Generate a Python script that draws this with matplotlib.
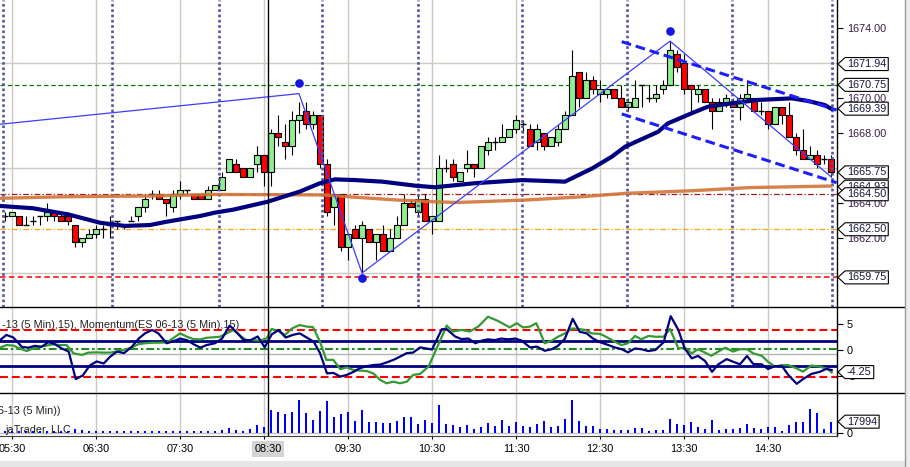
import numpy as np
import matplotlib.pyplot as plt
from matplotlib.patches import Polygon, Rectangle
from matplotlib.lines import Line2D
from matplotlib.transforms import IdentityTransform

plt.rcParams['font.family'] = ['Liberation Sans', 'DejaVu Sans']

# ---- values (ES 06-13, 5 min bars, bar 0 = 05:30) ----
first_bar = -1
opens = [1663.25, 1663.25, 1663.25, 1662.75, 1663.0, 1663.25, 1663.25, 1663.5, 1663.25, 1663.25,
         1662.75, 1661.75, 1662.0, 1662.25, 1662.5, 1662.75, 1663.0, 1662.75, 1663.0, 1663.25,
         1663.75, 1664.5, 1664.5, 1664.25, 1663.75, 1664.5, 1664.75, 1664.5, 1664.5, 1664.25,
         1664.75, 1664.75, 1665.75, 1666.25, 1666.0, 1665.5, 1666.25, 1666.75, 1665.75, 1668.0,
         1667.5, 1667.25, 1668.75, 1669.25, 1668.5, 1669.0, 1666.25, 1663.75, 1664.5, 1661.5,
         1662.5, 1662.0, 1662.5, 1661.75, 1662.25, 1661.25, 1662.0, 1662.75, 1664.0, 1663.5,
         1664.25, 1663.0, 1663.0, 1666.0, 1666.25, 1665.25, 1666.0, 1666.25, 1666.0, 1667.0,
         1667.5, 1667.5, 1667.75, 1668.25, 1668.5, 1668.25, 1667.5, 1668.0, 1667.25, 1667.5,
         1668.25, 1669.0, 1671.5, 1670.0, 1671.0, 1670.25, 1670.25, 1670.5, 1670.0, 1669.5,
         1669.5, 1670.75, 1670.0, 1670.0, 1670.5, 1670.75, 1672.5, 1672.0, 1670.75, 1670.25,
         1670.5, 1669.75, 1669.25, 1669.75, 1669.75, 1669.5, 1670.0, 1670.0, 1669.25, 1669.25,
         1668.5, 1669.5, 1669.0, 1667.75, 1667.0, 1666.5, 1666.75, 1666.5, 1666.5]
highs = [1663.5, 1663.5, 1663.25, 1663.25, 1663.25, 1663.25, 1664.0, 1663.5, 1663.5, 1663.5,
         1662.75, 1662.0, 1662.5, 1662.75, 1662.75, 1663.25, 1663.0, 1662.75, 1663.25, 1663.75,
         1664.5, 1664.75, 1664.75, 1664.25, 1664.75, 1665.25, 1664.75, 1664.5, 1664.5, 1665.0,
         1665.0, 1665.75, 1666.5, 1666.5, 1666.0, 1666.0, 1667.25, 1666.75, 1668.25, 1669.0,
         1668.5, 1669.25, 1669.75, 1669.75, 1669.25, 1669.0, 1666.5, 1664.5, 1664.5, 1662.25,
         1662.75, 1663.0, 1662.5, 1662.25, 1662.75, 1662.5, 1663.25, 1664.5, 1664.25, 1664.5,
         1664.5, 1663.25, 1666.75, 1666.5, 1666.5, 1665.75, 1667.0, 1666.25, 1667.25, 1667.75,
         1667.75, 1668.5, 1668.25, 1669.0, 1668.75, 1668.5, 1668.5, 1668.0, 1667.75, 1668.5,
         1669.25, 1672.75, 1671.5, 1671.5, 1671.25, 1671.0, 1670.5, 1670.5, 1670.75, 1670.0,
         1671.0, 1670.75, 1670.75, 1670.75, 1671.0, 1673.25, 1672.75, 1672.5, 1670.75, 1670.75,
         1670.5, 1670.0, 1670.0, 1670.25, 1670.0, 1670.25, 1671.0, 1670.0, 1669.75, 1669.25,
         1669.5, 1669.5, 1669.75, 1668.0, 1668.25, 1667.25, 1667.0, 1666.75, 1666.75]
lows = [1663.0, 1663.25, 1662.75, 1662.75, 1662.75, 1662.75, 1663.0, 1663.0, 1663.0, 1662.75,
        1661.5, 1661.5, 1662.0, 1662.0, 1662.0, 1662.0, 1662.5, 1662.5, 1663.0, 1663.0,
        1663.5, 1664.25, 1664.25, 1663.25, 1663.5, 1664.25, 1664.5, 1664.25, 1664.25, 1664.25,
        1664.75, 1664.75, 1665.75, 1665.75, 1665.5, 1665.5, 1665.75, 1665.0, 1665.0, 1667.25,
        1666.5, 1666.75, 1668.0, 1668.25, 1668.25, 1666.0, 1663.25, 1662.75, 1661.25, 1660.75,
        1662.0, 1660.0, 1661.75, 1660.75, 1661.25, 1661.25, 1662.0, 1662.75, 1663.75, 1663.25,
        1663.0, 1662.25, 1663.0, 1665.75, 1665.25, 1665.25, 1665.75, 1665.5, 1666.0, 1666.75,
        1667.0, 1667.5, 1667.75, 1668.0, 1668.0, 1667.25, 1667.0, 1667.0, 1667.25, 1667.25,
        1668.25, 1669.0, 1669.5, 1670.0, 1670.25, 1669.75, 1670.0, 1670.0, 1669.5, 1669.25,
        1669.5, 1669.5, 1669.75, 1669.75, 1670.25, 1670.75, 1671.5, 1670.25, 1669.25, 1669.75,
        1669.75, 1668.25, 1669.25, 1669.5, 1669.5, 1668.75, 1669.75, 1669.25, 1669.0, 1668.25,
        1668.5, 1668.5, 1667.75, 1666.75, 1666.5, 1666.5, 1666.0, 1666.25, 1665.5]
closes = [1663.25, 1663.5, 1662.75, 1662.75, 1663.0, 1663.25, 1663.5, 1663.25, 1663.0, 1663.0,
          1661.75, 1662.0, 1662.25, 1662.5, 1662.5, 1662.75, 1663.0, 1662.75, 1663.0, 1663.75,
          1664.25, 1664.5, 1664.25, 1664.0, 1664.5, 1664.75, 1664.75, 1664.25, 1664.25, 1664.75,
          1665.0, 1665.5, 1666.5, 1665.75, 1665.5, 1666.0, 1666.75, 1665.75, 1668.0, 1667.75,
          1667.25, 1668.75, 1669.0, 1668.5, 1669.0, 1666.25, 1663.5, 1664.5, 1661.5, 1662.25,
          1662.0, 1662.75, 1661.75, 1662.25, 1661.25, 1662.0, 1662.75, 1664.0, 1663.75, 1664.25,
          1663.0, 1663.25, 1666.0, 1666.0, 1665.5, 1665.75, 1666.25, 1666.0, 1667.25, 1667.5,
          1667.5, 1667.75, 1668.25, 1668.75, 1668.5, 1667.25, 1668.25, 1667.25, 1667.75, 1668.25,
          1669.0, 1671.25, 1670.0, 1671.0, 1670.5, 1670.5, 1670.5, 1670.0, 1669.5, 1669.75,
          1670.0, 1670.75, 1670.0, 1670.25, 1670.75, 1672.75, 1671.75, 1670.5, 1670.5, 1670.5,
          1669.75, 1669.25, 1669.75, 1670.0, 1669.5, 1670.0, 1670.25, 1669.25, 1669.25, 1668.5,
          1669.5, 1669.0, 1667.75, 1667.0, 1666.5, 1666.75, 1666.25, 1666.5, 1665.75]
volumes = [2650, 2650, 2650, 2650, 2650, 2650, 2650, 2650, 2650, 2650,
           6360, 4240, 2650, 2650, 2650, 3710, 2650, 2650, 2650, 2650,
           2650, 2650, 2650, 3710, 2650, 3710, 2650, 2650, 2650, 2650,
           2650, 5300, 7950, 5300, 2650, 6360, 12190, 9540, 37100, 32860,
           30210, 33390, 53000, 31800, 21200, 35500, 51400, 25440, 30210, 32860,
           18550, 36570, 17490, 17490, 15900, 15900, 18550, 25440, 24910, 14310,
           21150, 15900, 44520, 14310, 12720, 10020, 12720, 6360, 10020, 15900,
           11610, 21150, 11610, 17490, 11610, 10020, 14310, 19080, 10020, 11610,
           22260, 52950, 19560, 11610, 11610, 6840, 6840, 5250, 5250, 5250,
           8430, 8430, 3660, 5250, 5250, 22260, 14310, 12720, 17490, 10020,
           6360, 20670, 5250, 6360, 6360, 8430, 14310, 8430, 6360, 10020,
           10020, 3180, 12720, 17490, 17490, 38640, 31800, 6360, 17994]

hour_labels = ['05:30', '06:30', '07:30', '08:30', '09:30', '10:30',
               '11:30', '12:30', '13:30', '14:30']
bars_per_hour = 12

# moving averages (bar position, price)
sma_fast_x = [-1.7, 3, 8, 12.6, 16.1, 19.7, 22.1, 26.9, 29, 31.6, 36.4, 41.1, 44, 46.1, 49,
              52.9, 57.6, 60.4, 66.1, 72.9, 79, 82.9, 85.7, 87.6, 92.3, 93.7, 97.1, 99.4,
              102.9, 106.6, 111.4, 113.7, 116.1, 117]
sma_fast_y = [1663.83, 1663.70, 1663.35, 1662.87, 1662.69, 1662.74, 1662.93, 1663.26, 1663.45,
              1663.62, 1664.06, 1664.65, 1665.13, 1665.35, 1665.31, 1665.22, 1664.99, 1664.90,
              1665.13, 1665.31, 1665.22, 1665.98, 1666.65, 1667.22, 1668.07, 1668.55, 1669.13,
              1669.50, 1669.70, 1669.89, 1669.98, 1669.83, 1669.60, 1669.39]
sma_slow_x = [-1.7, 7.9, 19.7, 29, 44.7, 49, 55.1, 60.4, 63.7, 73.3, 80.4, 87.6, 97.1, 105.4, 117]
sma_slow_y = [1664.27, 1664.36, 1664.40, 1664.49, 1664.46, 1664.33, 1664.17, 1664.07, 1664.03,
              1664.17, 1664.33, 1664.55, 1664.70, 1664.88, 1664.97]

zigzag_x = [-1.7, 41, 50, 94, 117]
zigzag_y = [1668.5, 1670.25, 1660.0, 1673.25, 1665.5]
swing_dot_x = [41, 50, 94]
swing_dot_y = [1670.85, 1659.7, 1673.8]

channel_x = [87.1, 117.8]
channel_top_y = [1673.22, 1669.31]
channel_bot_y = [1669.09, 1665.16]

level_green = 1670.75
level_darkred = 1664.50
level_orange = 1662.50
level_red = 1659.75
price_grid = [1660, 1666, 1672]
price_ticks = [1662, 1664, 1668, 1670, 1674]
price_tags = [1671.94, 1670.75, 1669.39, 1665.75, 1664.93, 1664.50, 1662.50, 1659.75]

session_marks = [-1.3, 14.3, 29.6, 44.3, 58.0, 72.9, 87.9, 102.9, 117.1]
cursor_x = 36.57

# momentum panel
mom_a_x = [-1.7, -0.8, 0.2, 1.4, 2.3, 3.3, 4.2, 5.2, 6.1, 7.1, 8.1, 9.1, 10.1, 11.1, 12.1, 13.1,
           14.0, 15.0, 16.0, 17.1, 18.1, 19.0, 20.0, 20.9, 22.1, 23.1, 24.0, 25.0, 25.9, 26.9,
           27.8, 29.0, 30.0, 31.1, 32.1, 33.1, 34.1, 35.1, 36.1, 37.1, 38.1, 39.1, 40.1, 41.1,
           42.1, 43.1, 44.0, 45.0, 45.9, 46.9, 47.8, 48.8, 49.7, 50.7, 51.6, 52.6, 53.5, 54.5,
           55.4, 56.4, 57.3, 58.3, 60.0, 61.4, 62.1, 63.3, 64.2, 65.2, 66.2, 67.1, 68.0, 69.0,
           69.9, 70.9, 71.9, 72.8, 74.0, 75.0, 76.1, 77.1, 78.0, 79.0, 80.1, 81.1, 82.1, 83.0,
           84.0, 85.2, 86.1, 87.1, 88.0, 89.0, 89.9, 90.9, 91.9, 93.1, 94.1, 95.2, 96.1, 97.1,
           98.0, 99.0, 100.0, 100.9, 102.1, 103.0, 104.0, 105.0, 105.9, 107.1, 108.0, 109.0,
           110.0, 110.9, 112.1, 113.0, 114.2, 115.4, 116.3, 117.1]
mom_a_y = [1.9, 2.9, 2.4, 0.6, 0.45, 0.8, 0.6, 1.5, 1.15, 0.3, -0.3, -5.6, -4.9, -3.0, -2.2, -2.6,
           -1.3, -0.3, -0.6, 0.6, 2.2, 3.2, 3.85, 3.2, 1.3, 1.7, 2.2, 1.9, 1.15, 0.45,
           0.95, 1.3, 2.2, 4.7, 3.4, 1.9, 1.9, 2.6, 0.5, 3.0, 3.85, 2.4, 2.9, 3.2,
           2.4, 1.6, -0.6, -4.5, -4.4, -5.1, -4.8, -4.2, -3.5, -3.1, -2.9, -2.8, -2.4, -1.9,
           -1.3, -0.6, -0.5, 0.5, 0.1, 4.0, 4.0, 2.6, 2.1, 2.2, 1.3, 1.8, 2.05, 1.9,
           2.2, 2.05, 2.2, 1.8, 0.5, 0.65, -0.15, 0.15, 0.8, 2.2, 6.0, 3.5, 3.2, 2.2,
           1.5, 0.95, 0.5, 0.15, -0.45, 0.3, 0.15, -0.2, 0.0, 1.5, 6.5, 3.85, 0.3, -1.6,
           -1.15, -2.1, -4.2, -2.75, -1.75, -2.25, -2.75, -1.15, -2.7, -2.75, -3.65, -3.1,
           -3.1, -4.8, -6.5, -5.6, -4.6, -4.2, -3.65, -3.85]
mom_b_x = [-1.7, -0.8, 0.2, 1.1, 2.1, 3.0, 4.0, 5.0, 5.9, 6.9, 7.8, 8.8, 10.0, 10.9, 12.1, 13.0,
           14.0, 15.0, 15.9, 17.1, 18.0, 19.0, 20.0, 20.9, 22.1, 23.0, 24.0, 25.0, 25.9, 26.9,
           27.8, 28.8, 29.7, 30.7, 31.6, 32.6, 33.5, 34.5, 35.4, 36.4, 37.1, 38.0, 39.0, 40.0,
           41.1, 42.1, 43.0, 44.0, 44.9, 45.9, 46.9, 47.8, 48.8, 49.7, 50.7, 51.6, 52.6, 53.5,
           54.5, 55.4, 56.4, 57.3, 58.3, 59.5, 60.4, 61.4, 62.1, 63.0, 64.2, 65.4, 66.6, 68.0,
           69.4, 71.1, 72.1, 73.0, 74.0, 74.9, 76.1, 77.1, 78.0, 79.0, 80.0, 80.9, 81.9, 82.8,
           84.0, 85.0, 86.1, 87.1, 88.0, 89.0, 89.9, 90.9, 91.9, 93.1, 94.0, 95.2, 96.1, 97.1,
           98.0, 99.0, 99.9, 100.9, 101.9, 103.0, 104.0, 105.0, 105.9, 107.1, 108.0, 109.0,
           110.0, 110.9, 112.1, 113.0, 114.2, 115.4, 116.6, 117.1]
mom_b_y = [0.45, 0.95, 0.85, 0.3, -0.2, 0.3, 0.65, 0.85, 1.1, 0.95, 0.95, -0.65, -0.95, -0.5,
           -0.45, -0.5, -0.5, -0.3, 0.0, 0.45, 1.1, 1.3, 1.4, 1.4, 1.45, 2.25, 3.2, 2.55, 2.1,
           2.05, 2.35, 2.45, 2.55, 3.2, 3.85, 2.75, 1.9, 1.9, 1.8, 2.25, 4.05, 3.65, 2.9, 4.15,
           4.8, 4.5, 4.4, 1.6, -1.9, -1.9, -3.7, -3.35, -3.85, -3.95, -4.05, -4.5, -5.75, -6.4,
           -6.1, -6.4, -6.1, -4.8, -4.6, -3.2, -0.5, 2.55, 4.7, 3.55, 3.85, 3.55, 4.5, 6.4,
           5.6, 4.35, 5.15, 4.35, 4.5, 5.15, 1.3, 1.8, 2.55, 3.2, 4.15, 4.05, 3.85, 3.2,
           3.1, 2.45, 1.6, 0.95, 1.3, 2.7, 2.05, 2.7, 2.55, 2.55, 4.05, 0.3, 0.45, -0.65,
           0.15, -0.5, -1.1, -0.3, 0.45, -0.3, 0.15, 0.15, -0.65, -1.1, -2.25, -3.2,
           -2.9, -2.9, -3.55, -4.15, -3.0, -3.2, -3.7, -4.3]
mom_red_levels = [3.85, -5.1]
mom_navy_levels = [1.8, -3.1]
mom_green_level = 0.25
mom_gray_level = -0.8
mom_tag = -4.25

# ---- layout in screen pixels ----
W, H = 910, 467
fig = plt.figure(figsize=(W / 100, H / 100), dpi=100)
fig.patch.set_facecolor('white')


def rect(x0, y0, x1, y1):
    return [x0 / W, 1 - y1 / H, (x1 - x0) / W, (y1 - y0) / H]


ax_p = fig.add_axes(rect(0, 0, 837, 307))
ax_m = fig.add_axes(rect(0, 307, 837, 393), sharex=ax_p)
ax_v = fig.add_axes(rect(0, 393, 837, 436), sharex=ax_p)

grid_c = '#cdc8c2'
x = np.arange(first_bar, first_bar + len(closes))
o, hi, lo, c = map(np.array, (opens, highs, lows, closes))
hour_pos = np.arange(len(hour_labels)) * bars_per_hour

for ax in (ax_p, ax_m, ax_v):
    ax.set_facecolor('white')
    for s in ('top', 'left', 'bottom'):
        ax.spines[s].set_visible(False)
    ax.spines['right'].set_color('black')
    ax.spines['right'].set_linewidth(1)
    ax.yaxis.tick_right()
    ax.set_xticks(hour_pos)
    ax.grid(axis='x', color=grid_c, lw=1, zorder=0)
    ax.set_axisbelow(True)
    ax.tick_params(axis='y', length=4, width=0.8, pad=3, labelsize=7.8, colors='black')
    ax.axvline(cursor_x, color='black', lw=1, zorder=6)

ax_p.set_xlim(-12 / 7, 825 / 7)

# ---- price panel ----
for g in price_grid:
    ax_p.axhline(g, color=grid_c, lw=1, zorder=0.5)
ax_p.axhline(level_green, color='#008000', lw=0.9, dashes=(3.6, 2.2), zorder=1)
ax_p.axhline(level_darkred, color='#a01818', lw=0.9, dashes=(4.5, 1.8, 1, 1.8), zorder=1)
ax_p.axhline(level_orange, color='#ffa500', lw=0.9, dashes=(4.5, 1.8, 1, 1.8), zorder=1)
ax_p.axhline(level_red, color='#ff0000', lw=1.1, dashes=(3.6, 2.2), zorder=1)

up = c > o
dn = c < o
flat = c == o
ax_p.vlines(x, lo, hi, color='black', lw=0.8, zorder=2)
ax_p.bar(x[up], (c - o)[up], bottom=o[up], width=0.72, color='#90ee90',
         edgecolor='black', lw=0.8, zorder=2.5)
ax_p.bar(x[dn], (o - c)[dn], bottom=c[dn], width=0.72, color='#ff0000',
         edgecolor='black', lw=0.8, zorder=2.5)
ax_p.hlines(c[flat], x[flat] - 0.36, x[flat] + 0.36, color='black', lw=1, zorder=2.5)

for m in session_marks:
    ax_p.axvline(m, color='#5555a2', lw=1.9, ls=(0, (1, 1)), zorder=2.8)

ax_p.plot(sma_slow_x, sma_slow_y, color='#d2743a', lw=2.4, alpha=0.9, zorder=3)
ax_p.plot(sma_fast_x, sma_fast_y, color='#000080', lw=3, zorder=3.2,
          solid_capstyle='round', solid_joinstyle='round')
ax_p.plot(zigzag_x, zigzag_y, color='#3c3cff', lw=0.9, zorder=3.5)
ax_p.plot(channel_x, channel_top_y, color='#1e1eff', lw=2.2, dashes=(3.2, 1.6), zorder=3.6)
ax_p.plot(channel_x, channel_bot_y, color='#1e1eff', lw=2.2, dashes=(3.2, 1.6), zorder=3.6)
ax_p.plot(swing_dot_x, swing_dot_y, 'o', color='#1414e6', ms=5.2, zorder=4)

ax_p.set_ylim(1674 - 279 / 17.5, 1674 + 28 / 17.5)
ax_p.set_yticks(price_ticks)
ax_p.set_yticklabels([f'{v:.2f}' for v in price_ticks])
ax_p.tick_params(axis='y', labelcolor='#3a1a4a')
ax_p.tick_params(axis='x', length=0, labelbottom=False)

# ---- momentum panel ----
for lv in mom_red_levels:
    ax_m.axhline(lv, color='#ff0000', lw=1.5, dashes=(3.8, 1.9), zorder=1)
for lv in mom_navy_levels:
    ax_m.axhline(lv, color='#000080', lw=2, zorder=1)
ax_m.axhline(mom_green_level, color='#228b22', lw=1.5, dashes=(3.8, 1.4, 1.2, 1.4), zorder=1)
ax_m.axhline(mom_gray_level, color='#b4b4b4', lw=1, zorder=0.8)
ax_m.plot(mom_b_x, mom_b_y, color='#339933', lw=1.6, zorder=3)
ax_m.plot(mom_a_x, mom_a_y, color='#000080', lw=1.6, zorder=3.2)
ax_m.set_ylim(-43 / 5.2, 43 / 5.2)
ax_m.set_yticks([-5, 0, 5])
ax_m.set_yticklabels(['-5', '0', '5'])
ax_m.tick_params(axis='x', length=0, labelbottom=False)
ax_m.annotate('-13 (5 Min),15), Momentum(ES 06-13 (5 Min),15)', xy=(239, H - 325),
              xycoords='figure pixels', ha='right', va='center', fontsize=7.8,
              color='#202020', zorder=1)

# ---- volume panel ----
ax_v.axhline(0, color='#c0c0c0', lw=1, zorder=0.8)
ax_v.bar(x, volumes, width=0.3, color='#0000ff', zorder=2)
ax_v.set_ylim(-3 * 1590, 40 * 1590)
ax_v.set_yticks([0])
ax_v.set_yticklabels(['0'])
ax_v.spines['bottom'].set_visible(True)
ax_v.spines['bottom'].set_color('#404040')
# the 08:30 slot is covered by the cursor time label drawn below
ax_v.set_xticklabels([lab if k != 3 else '' for k, lab in enumerate(hour_labels)])
ax_v.tick_params(axis='x', length=2.5, width=0.8, pad=3.5, labelsize=7.8, colors='black')
ax_v.annotate('6-13 (5 Min))', xy=(61, H - 411), xycoords='figure pixels',
              ha='right', va='center', fontsize=7.8, color='#202020', zorder=1)
ax_v.annotate('jaTrader, LLC', xy=(71, H - 430), xycoords='figure pixels',
              ha='right', va='center', fontsize=7.8, color='#202020', zorder=1)

# ---- value tags on the right scale ----
renderer = fig.canvas.get_renderer()
tag_z = [20]


def tag(ax, value, text):
    x0, y0 = ax.get_yaxis_transform().transform((1.0, value))
    z = tag_z[0]
    tag_z[0] += 2
    t = fig.text(x0 + 10, y0, text, transform=IdentityTransform(), fontsize=7.8,
                 ha='left', va='center', color='#15153a', zorder=z + 1)
    right = t.get_window_extent(renderer).x1 + 2
    pts = [(x0 + 1, y0), (x0 + 8, y0 + 6.5), (right, y0 + 6.5),
           (right, y0 - 6.5), (x0 + 8, y0 - 6.5)]
    fig.add_artist(Polygon(pts, closed=True, transform=IdentityTransform(),
                           fc='white', ec='black', lw=0.8, zorder=z))


for v in price_tags:
    tag(ax_p, v, f'{v:.2f}')
tag(ax_m, mom_tag, f'{mom_tag:.2f}')
tag(ax_v, volumes[-1], str(volumes[-1]))

# cursor time label
cx = ax_v.transData.transform((cursor_x, 0))[0]
fig.text(cx, H - 449, hour_labels[3], transform=IdentityTransform(), ha='center',
         va='center', fontsize=7.8, zorder=30,
         bbox=dict(boxstyle='square,pad=0.25', fc='#d4d4d4', ec='none'))

# panel separators and window frame
for yy in (307, 393):
    fig.add_artist(Line2D([0, 905], [H - yy, H - yy], transform=IdentityTransform(),
                          color='black', lw=1, zorder=40))
fig.add_artist(Rectangle((905, 0), 5, H, transform=IdentityTransform(),
                         fc='#ececec', ec='none', zorder=41))
fig.add_artist(Line2D([905, 905], [0, H], transform=IdentityTransform(),
                      color='#9a9a9a', lw=1, zorder=42))
fig.add_artist(Rectangle((0, 0), 905, 6, transform=IdentityTransform(),
                         fc='#e6e6e6', ec='none', zorder=41))

fig.savefig('out.png', dpi=100)
